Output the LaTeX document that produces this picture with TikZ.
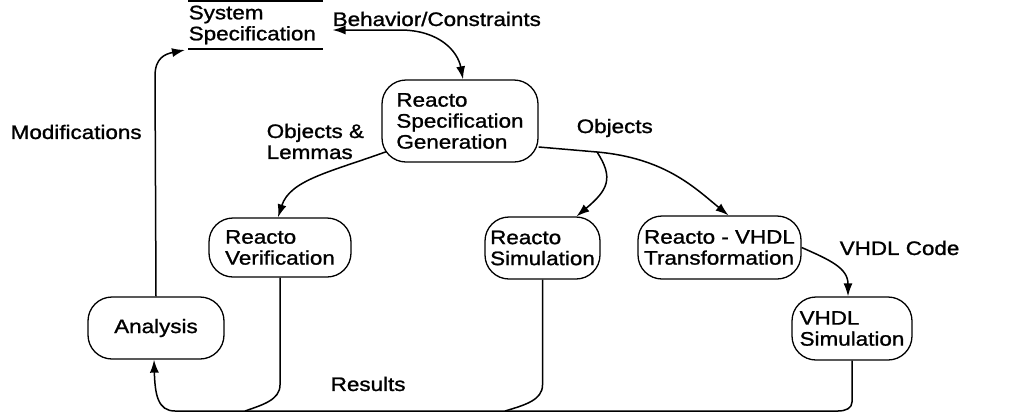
\documentclass[tikz,border=0pt]{standalone}
\usepackage{fontspec}
\setmainfont{Liberation Sans}[FakeStretch=1.15,FakeBold=1.2]
\usetikzlibrary{arrows.meta}
\begin{document}
\begin{tikzpicture}[x=1pt,y=-1pt,
  font=\fontsize{19.5}{21}\selectfont,
  line width=1.5pt,
  box/.style={draw, line width=1.3pt, rounded corners=24pt, align=left, inner sep=0pt},
  lbl/.style={anchor=west, align=left, inner sep=0pt},
  tip/.style={-{Latex[length=13pt,width=9pt]}},
  dtip/.style={{Latex[length=13pt,width=9pt]}-{Latex[length=13pt,width=9pt]}}]
\useasboundingbox (0,0) rectangle (1017,416);

% nodes
\node[lbl, text width=133pt, inner ysep=4pt] (sys) at (188,25) {System\\Specification};
\draw (sys.north west) -- (sys.north east);
\draw (sys.south west) -- (sys.south east);

\node[box, minimum width=156pt, minimum height=82pt] (gen) at (460,121) {Reacto\\Specification\\Generation};
\node[box, minimum width=142pt, minimum height=59pt] (ver) at (280,247.5) {Reacto\\Verification};
\node[box, minimum width=136pt, minimum height=62pt] (ana) at (156,328) {Analysis};
\node[box, minimum width=115pt, minimum height=62pt] (sim) at (542.5,248) {Reacto\\Simulation};
\node[box, minimum width=163pt, minimum height=63pt] (trn) at (719.5,247.5) {Reacto - VHDL\\Transformation};
\node[box, minimum width=120pt, minimum height=63pt] (vsim) at (852,328.5) {VHDL\\Simulation};

% labels
\node[lbl] (lbeh) at (332,19) {Behavior/Constraints};
\node[lbl] (lmod) at (10,132) {Modifications};
\node[lbl] (lobl) at (266,141.5) {Objects \&\\Lemmas};
\node[lbl] (lobj) at (576,128) {Objects};
\node[lbl] (lvc) at (839,248) {VHDL Code};
\node[lbl] (lres) at (330,384) {Results};

% coordinates
\coordinate (modend) at (185,50);
\coordinate (fork) at (597,152);
\coordinate (bend) at (838,411);

% connectors
\draw[dtip] ([xshift=10pt,yshift=-5pt]sys.east) -- (400,30) .. controls (440,30) and (458,52) .. ([xshift=3pt]gen.north);
\draw[tip] (ana.north) -- (155,76) .. controls (155,58) and (165,54) .. (modend);
\draw[tip] ([shift={(5,-11)}]gen.south west) .. controls (330,172) and (290,180) .. ([xshift=-2pt]ver.north);
\draw ([yshift=-26pt]gen.east) -- (fork);
\draw[tip] (fork) .. controls (614,178) and (608,190) .. ([xshift=34pt]sim.north);
\draw[tip] (fork) .. controls (665,158) and (695,188) .. ([xshift=9pt]trn.north);
\draw[tip] (trn.east) .. controls (830,260) and (848,268) .. ([xshift=-4pt]vsim.north);
\draw[tip] (bend) -- (175,411) .. controls (158,411) and (155,395) .. ([xshift=-2pt]ana.south);
\draw (ver.south) -- (280,385) .. controls (280,400) and (262,405) .. (245,411);
\draw (sim.south) -- (542.5,385) .. controls (542.5,400) and (525,405) .. (505,411);
\draw (vsim.south) -- (852,402) .. controls (852,408) and (846,411) .. (bend);
\end{tikzpicture}
\end{document}
